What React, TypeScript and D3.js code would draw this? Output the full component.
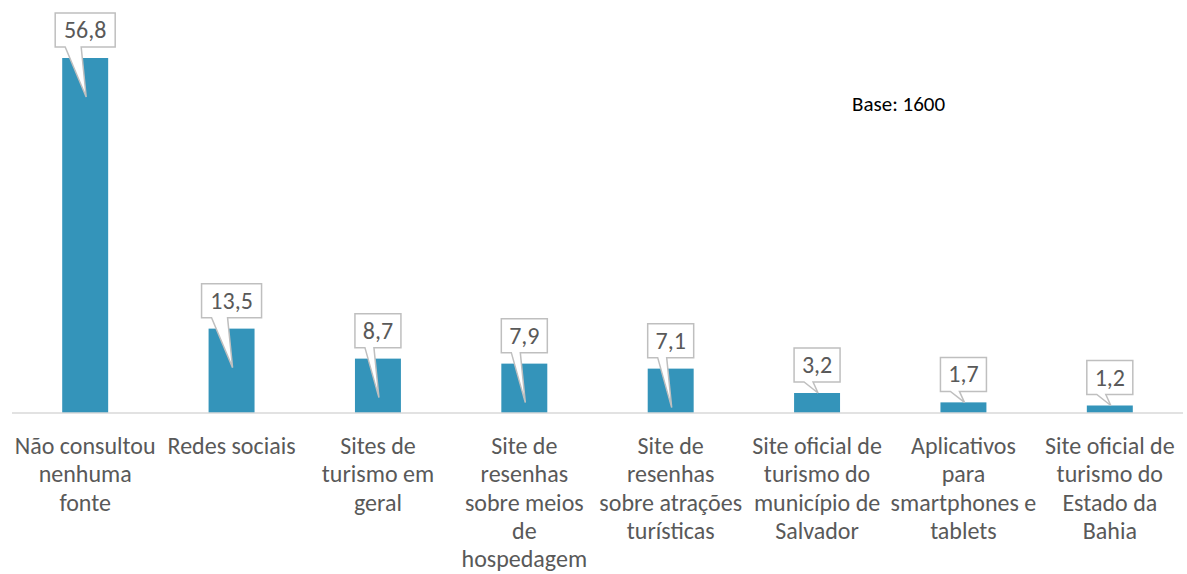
import React from 'react';
import * as d3 from 'd3';

const categories = [
    ['Não consultou', 'nenhuma', 'fonte'],
    ['Redes sociais'],
    ['Sites de', 'turismo em', 'geral'],
    ['Site de', 'resenhas', 'sobre meios', 'de', 'hospedagem'],
    ['Site de', 'resenhas', 'sobre atrações', 'turísticas'],
    ['Site oficial de', 'turismo do', 'município de', 'Salvador'],
    ['Aplicativos', 'para', 'smartphones e', 'tablets'],
    ['Site oficial de', 'turismo do', 'Estado da', 'Bahia'],
];
const values = [56.8, 13.5, 8.7, 7.9, 7.1, 3.2, 1.7, 1.2];
const valueLabels = ['56,8', '13,5', '8,7', '7,9', '7,1', '3,2', '1,7', '1,2'];

const width = 1187;
const height = 574;
const baseline = 413;

const App = () => {
    const x = d3
        .scaleBand<number>()
        .domain(values.map((_, i) => i))
        .range([12, 1183])
        .paddingInner(0.686)
        .paddingOuter(0.343);
    const y = d3.scaleLinear().domain([0, 56.8]).range([baseline, 58]);
    const font = 'Calibri, Carlito, "Open Sans", sans-serif';

    return (
        <svg width={width} height={height} style={{ display: 'block', position: 'absolute', left: 0, top: 0 }}>
            <rect width={width} height={height} fill="#fff" />
            {values.map((v, i) => (
                <rect
                    key={i}
                    x={x(i)}
                    y={y(v)}
                    width={x.bandwidth()}
                    height={baseline - y(v)}
                    fill="#3494ba"
                />
            ))}
            <line x1={12} x2={1183} y1={baseline} y2={baseline} stroke="#d9d9d9" strokeWidth={1.5} />
            {values.map((v, i) => {
                const cx = (x(i) as number) + x.bandwidth() / 2;
                const top = y(v);
                const h = baseline - top;
                const boxW = valueLabels[i].length * 14 + 4;
                const left = cx - boxW / 2;
                const right = cx + boxW / 2;
                const bottom = top - 11;
                const boxTop = bottom - 34;
                const tipY = h > 30 ? Math.min(top + 39, baseline - 5) : top;
                const baseL = left + 10;
                const baseR = cx - 4;
                const d = `M${left},${boxTop}H${right}V${bottom}H${baseR}L${cx + 1},${tipY}L${baseL},${bottom}H${left}Z`;
                return (
                    <g key={i}>
                        <path d={d} fill="#fff" stroke="#bfbfbf" strokeWidth={1.5} />
                        <text
                            x={cx}
                            y={boxTop + 25}
                            textAnchor="middle"
                            fontSize={24}
                            fill="#595959"
                            fontFamily={font}
                        >
                            {valueLabels[i]}
                        </text>
                    </g>
                );
            })}
            {categories.map((lines, i) => {
                const cx = (x(i) as number) + x.bandwidth() / 2;
                return (
                    <text key={i} textAnchor="middle" fontSize={24} fill="#595959" fontFamily={font}>
                        {lines.map((l, j) => (
                            <tspan key={j} x={cx} y={454 + j * 28.3}>
                                {l}
                            </tspan>
                        ))}
                    </text>
                );
            })}
            <text x={852} y={111} fontSize={21} fill="#000" fontFamily={font}>
                Base: 1600
            </text>
        </svg>
    );
};

export default App;
